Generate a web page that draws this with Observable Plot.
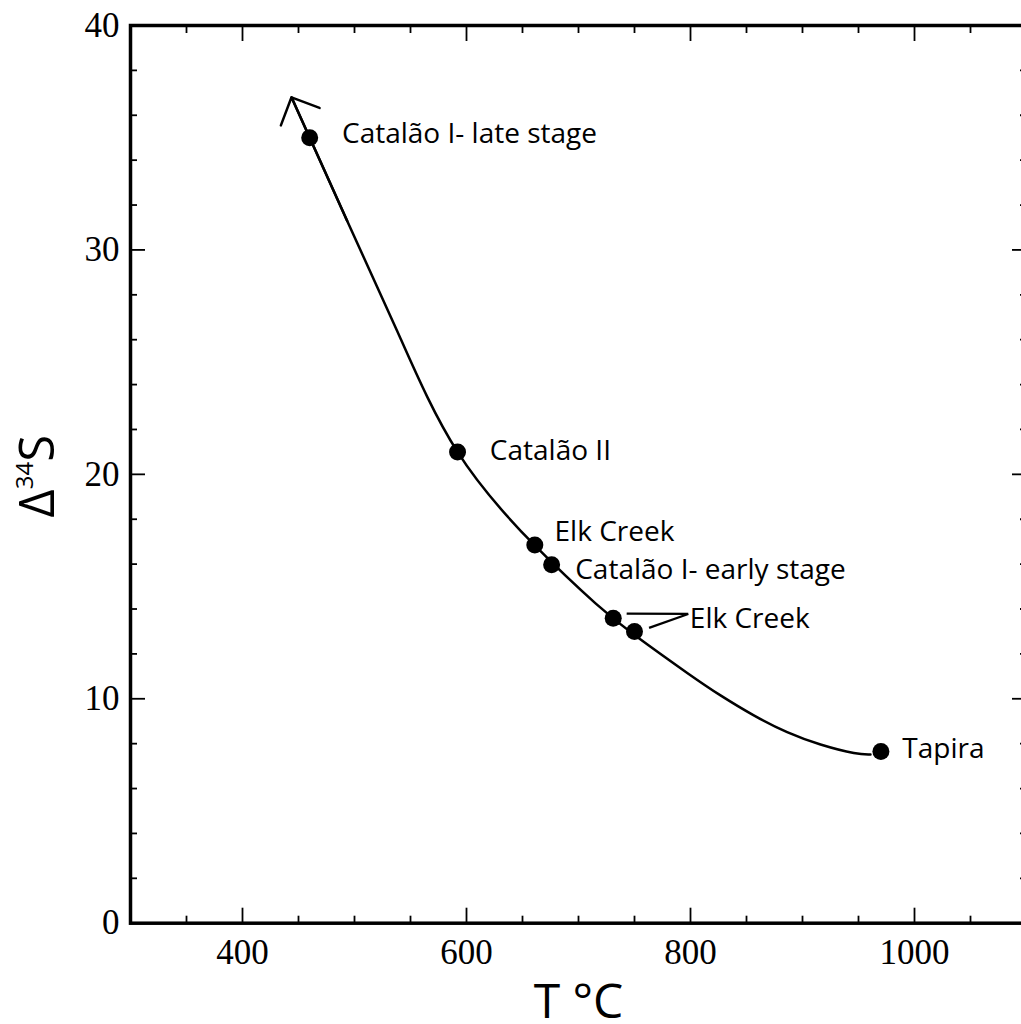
<!DOCTYPE html>
<html><head><meta charset="utf-8">
<script src="https://cdn.jsdelivr.net/npm/d3@7"></script>
<script src="https://cdn.jsdelivr.net/npm/@observablehq/plot@0.6"></script>
<style>
html,body{margin:0;padding:0;background:#fff;overflow:hidden;}
</style></head><body><div id="chart"></div>
<script>
// ---- data ----
const sampleNames = ["Catalão I- late stage", "Catalão II", "Elk Creek", "Catalão I- early stage", "Elk Creek", "Elk Creek", "Tapira"];
const sampleT = [460, 592, 661, 676, 731, 750, 970];
const sampleD34S = [35.0, 21.0, 16.85, 15.97, 13.59, 13.0, 7.65];

// fitted curve
const curveT =    [443.75, 460, 493.5, 538.1, 592, 661, 715.2, 750, 797.1, 826.8, 856.5, 886.3, 916.1, 945.8, 960.7];
const curveD34S = [36.8, 35.0, 31.29, 26.39, 21.0, 16.83, 14.25, 12.84, 11.15, 10.15, 9.26, 8.51, 7.96, 7.58, 7.52];

// arrow at the upper end of the curve
const arrowT = [493.5, 443.75];
const arrowD34S = [31.29, 36.8];

// leader lines for the second "Elk Creek" label
const leaderT1 = [743, 763];
const leaderD1 = [13.79, 13.16];
const leaderT2 = [798, 798];
const leaderD2 = [13.78, 13.78];

// labels
const labelTexts = ["Catalão I- late stage", "Catalão II", "Elk Creek", "Catalão I- early stage", "Elk Creek", "Tapira"];
const labelT = [sampleT[0], sampleT[1], sampleT[2], sampleT[3], leaderT2[0], sampleT[6]];
const labelD34S = [sampleD34S[0], sampleD34S[1], sampleD34S[2], sampleD34S[3], leaderD2[0], sampleD34S[6]];

// ticks
const xMajorTicks = [400, 600, 800, 1000];
const xMinorTicks = [350, 450, 500, 550, 650, 700, 750, 850, 900, 950, 1050];
const yMajorTicks = [0, 10, 20, 30, 40];
const yMinorTicks = [2, 4, 6, 8, 12, 14, 16, 18, 22, 24, 26, 28, 32, 34, 36, 38];

const xTitle = "T °C";

// ---- tables ----
const samples = sampleT.map((t, i) => ({t, d: sampleD34S[i], name: sampleNames[i]}));
const curve = curveT.map((t, i) => ({t, d: curveD34S[i]}));
const arrow = [{t1: arrowT[0], d1: arrowD34S[0], t2: arrowT[1], d2: arrowD34S[1]}];
const leaders = leaderT1.map((t, i) => ({t1: t, d1: leaderD1[i], t2: leaderT2[i], d2: leaderD2[i]}));
const labels = labelTexts.map((text, i) => ({text, t: labelT[i], d: labelD34S[i]}));

// layout (pixel offsets of labels from their anchors)
const labelOffsets = [[32.3, -4], [32.3, -1], [19.7, -13], [23.6, 5.7], [1.6, 5.3], [21.4, -2]];

const sans = "Open Sans";
const serif = "Liberation Serif";
const tickW = 1.8;

const plot = Plot.plot({
  width: 1026,
  height: 1024,
  marginLeft: 130,
  marginRight: 0,
  marginTop: 25,
  marginBottom: 101.3,
  style: {maxWidth: "none", background: "white", color: "black"},
  x: {domain: [300, 1100]},
  y: {domain: [0, 40]},
  marks: [
    // inward ticks on all four sides
    Plot.axisX(xMajorTicks, {anchor: "bottom", tickSize: -15, strokeWidth: tickW, fill: "none", label: null}),
    Plot.axisX(xMinorTicks, {anchor: "bottom", tickSize: -7, strokeWidth: tickW, fill: "none", label: null}),
    Plot.axisX(xMajorTicks, {anchor: "top", tickSize: -15, strokeWidth: tickW, fill: "none", label: null}),
    Plot.axisX(xMinorTicks, {anchor: "top", tickSize: -7, strokeWidth: tickW, fill: "none", label: null}),
    Plot.axisY(yMajorTicks, {anchor: "left", tickSize: -15, strokeWidth: tickW, fill: "none", label: null}),
    Plot.axisY(yMinorTicks, {anchor: "left", tickSize: -7, strokeWidth: tickW, fill: "none", label: null}),
    Plot.axisY(yMajorTicks, {anchor: "right", tickSize: -15, strokeWidth: tickW, fill: "none", label: null}),
    Plot.axisY(yMinorTicks, {anchor: "right", tickSize: -7, strokeWidth: tickW, fill: "none", label: null}),
    // tick labels
    Plot.axisX(xMajorTicks, {anchor: "bottom", tickSize: 0, tickPadding: 16, tickFormat: d => String(d), fontSize: 35, fontFamily: serif, fill: "black", label: null}),
    Plot.axisY(yMajorTicks, {anchor: "left", tickSize: 0, tickPadding: 11, tickFormat: d => String(d), fontSize: 35, fontFamily: serif, fill: "black", label: null}),
    Plot.frame({stroke: "black", strokeWidth: 3.5}),
    // curve, arrow, dots
    Plot.line(curve, {x: "t", y: "d", curve: "natural", stroke: "black", strokeWidth: 2.5}),
    Plot.arrow(arrow, {x1: "t1", y1: "d1", x2: "t2", y2: "d2", headAngle: 90, headLength: 18, stroke: "black", strokeWidth: 2.5}),
    Plot.link(leaders, {x1: "t1", y1: "d1", x2: "t2", y2: "d2", stroke: "black", strokeWidth: 2.2}),
    Plot.dot(samples, {x: "t", y: "d", r: 8.5, fill: "black", stroke: "none"}),
    // labels
    ...labels.map((l, i) => Plot.text([l], {x: "t", y: "d", text: "text", textAnchor: "start", lineAnchor: "middle",
      dx: labelOffsets[i][0], dy: labelOffsets[i][1], fontSize: 28, fontFamily: sans, fill: "black"})),
    // x title
    Plot.text([xTitle], {frameAnchor: "bottom", text: d => d, lineAnchor: "bottom", dy: 95, fontSize: 48, fontFamily: sans, fill: "black"})
  ]
});

// y title with superscript
const yr = plot.scale("y").range;
const yc = (yr[0] + yr[1]) / 2 + 2.5;
const t = d3.select(plot).append("text")
  .attr("transform", `translate(54,${yc}) rotate(-90)`)
  .attr("text-anchor", "middle")
  .attr("font-family", sans)
  .attr("font-size", 49)
  .attr("fill", "black");
t.append("tspan").text("Δ");
t.append("tspan").attr("font-size", 24).attr("dy", -21).text("34");
t.append("tspan").attr("dy", 21).text("S");

document.getElementById("chart").appendChild(plot);
</script>
</body></html>
